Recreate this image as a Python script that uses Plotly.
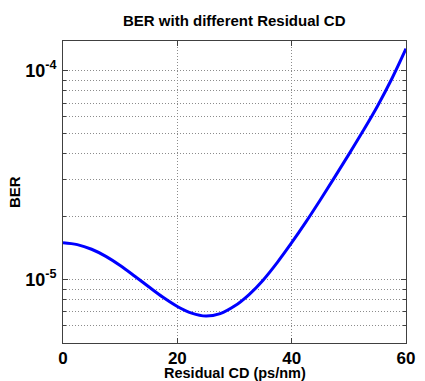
import plotly.graph_objects as go

# Data
residual_cd = [0, 2.5, 5, 7.5, 10, 12.5, 15, 17.5, 20, 22.5, 25, 27.5, 30,
               32.5, 35, 37.5, 40, 42.5, 45, 47.5, 50, 52.5, 55, 57.5, 60]
ber = [1.500e-5, 1.469e-5, 1.396e-5, 1.291e-5, 1.167e-5, 1.040e-5, 9.23e-6,
       8.22e-6, 7.43e-6, 6.90e-6, 6.68e-6, 6.87e-6, 7.46e-6, 8.45e-6, 9.93e-6,
       1.208e-5, 1.500e-5, 1.888e-5, 2.404e-5, 3.083e-5, 3.972e-5, 5.152e-5,
       6.761e-5, 9.120e-5, 1.274e-4]

x_ticks = [0, 20, 40, 60]
y_major = [1e-5, 1e-4]
y_major_text = ["10<sup>-5</sup>", "10<sup>-4</sup>"]
y_minor = [6e-6, 7e-6, 8e-6, 9e-6, 2e-5, 3e-5, 4e-5, 5e-5, 6e-5, 7e-5, 8e-5, 9e-5]

title_text = "BER with different Residual CD"
x_title = "Residual CD (ps/nm)"
y_title = "BER"

FONT = "Arial, Liberation Sans, sans-serif"
GRID = "#8c8c8c"
DASH = "1px,2px"
AXC = "#404040"

fig = go.Figure()
fig.add_trace(go.Scatter(x=residual_cd, y=ber, mode="lines",
                         line=dict(color="#0000ff", width=3, shape="spline", smoothing=1.0),
                         hoverinfo="skip"))

fig.update_layout(
    width=425, height=381,
    margin=dict(l=63, r=10, t=41, b=38),
    paper_bgcolor="white", plot_bgcolor="white",
    showlegend=False,
    font=dict(family=FONT, color="black"),
)

fig.update_xaxes(
    range=[0, 60], tickvals=x_ticks, ticktext=[f"<b>{v}</b>" for v in x_ticks],
    tickfont=dict(size=17, family=FONT, color="black"),
    ticks="inside", ticklen=5, tickcolor=AXC, mirror="ticks",
    showline=True, linecolor=AXC, linewidth=1,
    showgrid=True, gridcolor=GRID, griddash=DASH, gridwidth=1,
    ticklabelstandoff=0, ticklabeloverflow="allow",
    zeroline=False,
)
fig.update_yaxes(
    type="log", range=[-5.304, -3.858],
    tickvals=y_major, ticktext=[f"<b>{t}</b>" for t in y_major_text],
    tickfont=dict(size=18, family=FONT, color="black"),
    ticks="inside", ticklen=5, tickcolor=AXC, mirror="ticks",
    showline=True, linecolor=AXC, linewidth=1,
    showgrid=True, gridcolor=GRID, griddash=DASH, gridwidth=1,
    ticklabelstandoff=2, ticklabeloverflow="allow",
    minor=dict(tickvals=y_minor, ticks="inside", ticklen=3, tickcolor=AXC,
               showgrid=True, gridcolor=GRID, griddash=DASH, gridwidth=1),
    zeroline=False,
)

fig.add_annotation(text=f"<b>{title_text}</b>", xref="paper", yref="paper",
                   x=0.5, y=1, yshift=21, showarrow=False,
                   font=dict(size=15, family=FONT, color="black"), yanchor="middle")
fig.add_annotation(text=f"<b>{x_title}</b>", xref="paper", yref="paper",
                   x=0.5, y=0, yshift=-30, showarrow=False,
                   font=dict(size=14.5, family=FONT, color="black"), yanchor="middle")
fig.add_annotation(text=f"<b>{y_title}</b>", xref="paper", yref="paper",
                   x=0, xshift=-49, y=0.5, showarrow=False, textangle=-90,
                   font=dict(size=15, family=FONT, color="black"), xanchor="center")

fig.write_html("out.html")
